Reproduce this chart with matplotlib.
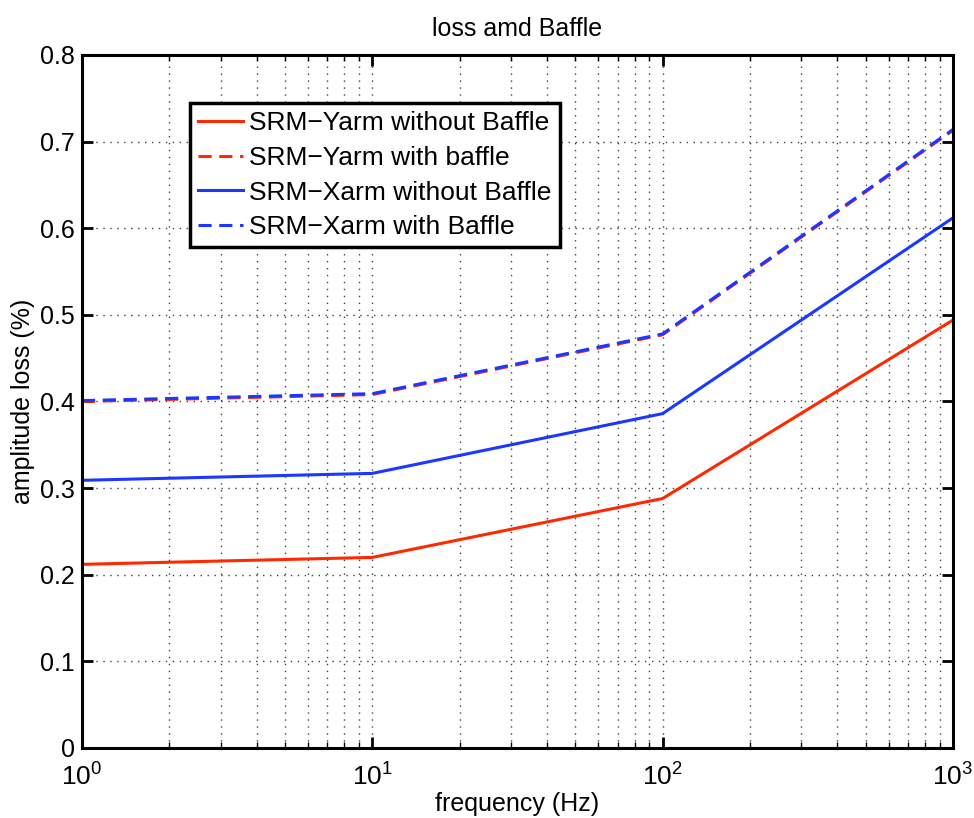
import numpy as np
import matplotlib.pyplot as plt

# frequency points (Hz)
freq = [1, 10, 100, 1000]
# amplitude loss (%)
yarm_no_baffle = [0.212, 0.220, 0.288, 0.494]
yarm_baffle = [0.400, 0.408, 0.477, 0.713]
xarm_no_baffle = [0.309, 0.317, 0.386, 0.612]
xarm_baffle = [0.401, 0.409, 0.478, 0.714]

labels = ['SRM\u2212Yarm without Baffle', 'SRM\u2212Yarm with baffle',
          'SRM\u2212Xarm without Baffle', 'SRM\u2212Xarm with Baffle']

plt.rcParams['font.family'] = ['Liberation Sans', 'DejaVu Sans']
plt.rcParams['mathtext.fontset'] = 'custom'
plt.rcParams['mathtext.rm'] = 'Liberation Sans'
plt.rcParams['mathtext.it'] = 'Liberation Sans:italic'
plt.rcParams['mathtext.bf'] = 'Liberation Sans:bold'

red = (1.0, 0.16, 0.0)
blue = (0.1, 0.22, 1.0)
dash = (4.3, 2.5)

fig = plt.figure(figsize=(9.74, 8.18), dpi=100)
ax = fig.add_axes([0.0842, 0.0856, 0.8942, 0.8472])

ax.plot(freq, yarm_no_baffle, '-', color=red, lw=2.2, label=labels[0])
ax.plot(freq, yarm_baffle, '--', dashes=dash, color=red, lw=2.2, label=labels[1])
ax.plot(freq, xarm_no_baffle, '-', color=blue, lw=2.2, label=labels[2])
ax.plot(freq, xarm_baffle, '--', dashes=dash, color=blue, lw=2.2, label=labels[3])

ax.set_xscale('log')
ax.set_xlim(1, 1000)
ax.set_ylim(0, 0.8)
ax.set_yticks(np.arange(0, 0.81, 0.1))
ax.set_yticklabels(['0', '0.1', '0.2', '0.3', '0.4', '0.5', '0.6', '0.7', '0.8'])

grid_ls = (0, (1, 4))
ax.grid(True, which='major', ls=grid_ls, color='0.25', lw=1)
ax.grid(True, which='minor', axis='x', ls=grid_ls, color='0.25', lw=1)

ax.tick_params(which='both', direction='in', top=True, right=True, labelsize=18)
ax.tick_params(axis='x', pad=11, labelsize=19)
ax.tick_params(axis='y', pad=5)
ax.tick_params(which='major', length=8, width=2)
ax.tick_params(which='minor', length=4, width=1)
for s in ax.spines.values():
    s.set_linewidth(2.2)

ax.set_xlabel('frequency (Hz)', fontsize=18, labelpad=1)
ax.set_ylabel('amplitude loss (%)', fontsize=18, labelpad=4)
ax.set_title('loss amd Baffle', fontsize=18, pad=14)

leg = ax.legend(loc='upper left', bbox_to_anchor=(0.124, 0.93), fontsize=19,
                fancybox=False, framealpha=1, edgecolor='black',
                handlelength=1.7, borderpad=0.3, labelspacing=0.4,
                handletextpad=0.25, borderaxespad=0)
leg.get_frame().set_linewidth(2.5)

fig.savefig('out.png', dpi=100)
